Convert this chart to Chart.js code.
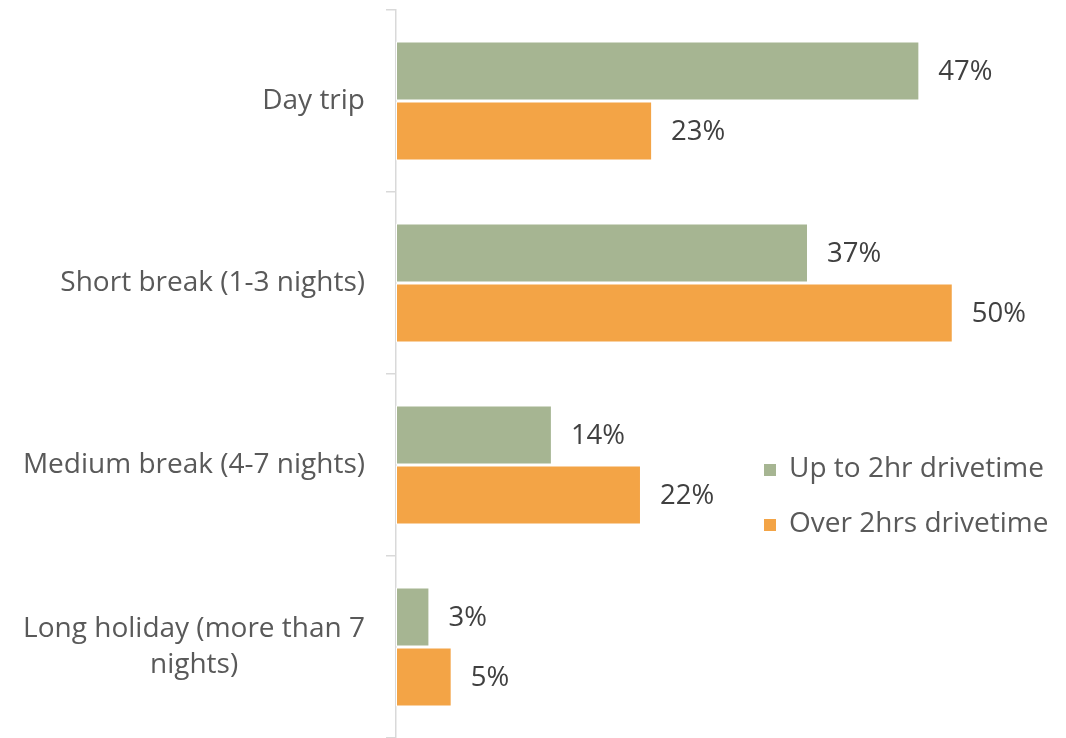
<!DOCTYPE html>
<html>
<head>
<meta charset="utf-8">
<script src="https://cdn.jsdelivr.net/npm/chart.js@4/dist/chart.umd.min.js"></script>
<style>
  html, body { margin: 0; padding: 0; background: #ffffff; }
  #wrap { width: 1066px; height: 738px; position: relative; }
</style>
</head>
<body>
<div id="wrap"><canvas id="chart"></canvas></div>
<script>
// Trip length categories (multi-line labels are given as arrays)
const categories = [
  ["Day trip"],
  ["Short break (1-3 nights)"],
  ["Medium break (4-7 nights)"],
  ["Long holiday (more than 7", "nights)"]
];
const seriesNames = ["Up to 2hr drivetime", "Over 2hrs drivetime"];
const upTo2hr = [47, 37, 14, 3];
const over2hrs = [23, 50, 22, 5];

const colors = ["#A6B592", "#F3A446"];
const FONT = "'Open Sans', 'Noto Sans', sans-serif";

// Value labels at the end of each bar
const valueLabels = {
  id: "valueLabels",
  afterDatasetsDraw(chart) {
    const ctx = chart.ctx;
    ctx.save();
    ctx.font = "27.5px " + FONT;
    ctx.fillStyle = "#404040";
    ctx.textAlign = "left";
    ctx.textBaseline = "middle";
    chart.data.datasets.forEach((ds, i) => {
      chart.getDatasetMeta(i).data.forEach((bar, j) => {
        ctx.fillText(ds.data[j] + "%", bar.x + 19, bar.y + 1);
      });
    });
    ctx.restore();
  }
};

// Category labels: right-aligned block, lines centred within the block
const categoryLabels = {
  id: "categoryLabels",
  afterDraw(chart) {
    const ctx = chart.ctx;
    const y = chart.scales.y;
    const rightEdge = 365;
    const lineH = 36;
    ctx.save();
    ctx.font = "28px " + FONT;
    ctx.fillStyle = "#595959";
    ctx.textBaseline = "middle";
    categories.forEach((lines, i) => {
      const cy = y.getPixelForTick(i);
      const widths = lines.map(l => ctx.measureText(l).width);
      const w = Math.max(...widths);
      const cx = rightEdge - w / 2;
      ctx.textAlign = "center";
      lines.forEach((l, k) => {
        const ly = cy + (k - (lines.length - 1) / 2) * lineH;
        ctx.fillText(l, cx, ly);
      });
    });
    ctx.restore();
  }
};

// Legend drawn inside the plot on the right
const sideLegend = {
  id: "sideLegend",
  afterDraw(chart) {
    const ctx = chart.ctx;
    const x0 = 764, y0 = 469, gap = 55;
    ctx.save();
    ctx.font = "28px " + FONT;
    ctx.textAlign = "left";
    ctx.textBaseline = "middle";
    seriesNames.forEach((name, i) => {
      const yy = y0 + i * gap;
      ctx.fillStyle = colors[i];
      ctx.fillRect(x0, yy - 5, 12, 12);
      ctx.fillStyle = "#595959";
      ctx.fillText(name, x0 + 25, yy);
    });
    ctx.restore();
  }
};

new Chart(document.getElementById("chart"), {
  type: "bar",
  data: {
    labels: categories,
    datasets: [
      { label: seriesNames[0], data: upTo2hr, backgroundColor: colors[0],
        borderColor: "#ffffff", borderWidth: 1, borderSkipped: false },
      { label: seriesNames[1], data: over2hrs, backgroundColor: colors[1],
        borderColor: "#ffffff", borderWidth: 1, borderSkipped: false }
    ]
  },
  options: {
    indexAxis: "y",
    responsive: true,
    maintainAspectRatio: false,
    animation: false,
    events: [],
    categoryPercentage: 0.66,
    barPercentage: 0.98,
    layout: { padding: { top: 10, right: 3, bottom: 0, left: 0 } },
    plugins: { legend: { display: false }, tooltip: { enabled: false } },
    scales: {
      x: { display: false, min: 0, max: 59.9 },
      y: {
        grid: { drawOnChartArea: false, drawTicks: true, tickLength: 10, color: "#D9D9D9", lineWidth: 1.5 },
        border: { color: "#D9D9D9", width: 1.5 },
        ticks: { display: false },
        afterFit(scale) { scale.width = 396; }
      }
    }
  },
  plugins: [valueLabels, categoryLabels, sideLegend]
});
</script>
</body>
</html>
